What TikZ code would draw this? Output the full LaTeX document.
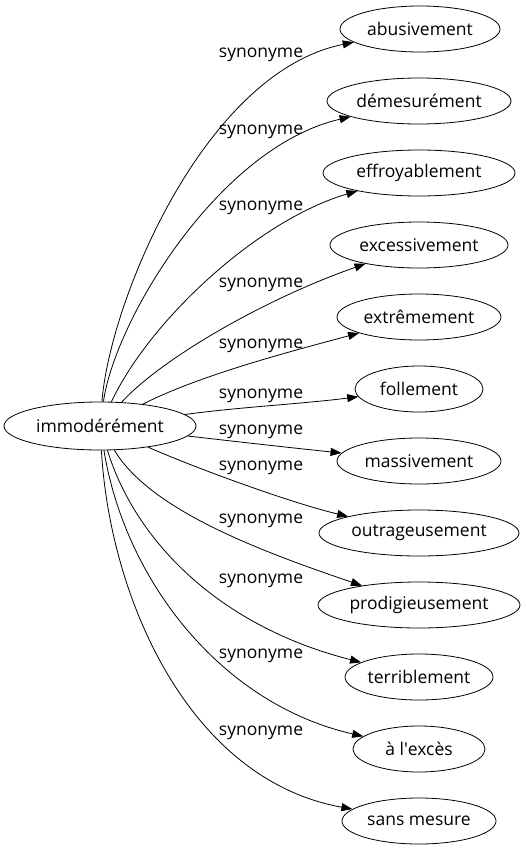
\documentclass[tikz,border=0pt]{standalone}
\usepackage{fontspec}
\setmainfont{Open Sans}
\usetikzlibrary{arrows.meta,shapes.geometric}
\begin{document}
\begin{tikzpicture}[x=1pt,y=-1pt,
  every node/.style={font=\fontsize{17.5}{20}\selectfont},
  ell/.style={draw, ellipse, line width=0.8pt, inner sep=0pt, minimum height=46pt},
  lab/.style={anchor=base, inner sep=0pt},
  edge/.style={draw, line width=0.8pt, -{Triangle[length=11pt,width=8pt]}}]
\fill[white] (0,0) rectangle (525,851);
\useasboundingbox (0,0) rectangle (525,851);
\node[ell, minimum width=192pt, minimum height=48pt] (immo) at (100,426) {immodérément};
\node[ell, minimum width=160pt] (abus) at (420,29) {abusivement};
\node[ell, minimum width=184pt] (deme) at (419,101) {démesurément};
\node[ell, minimum width=192pt] (effr) at (419,173) {effroyablement};
\node[ell, minimum width=178pt] (exce) at (419,245) {excessivement};
\node[ell, minimum width=164pt] (extr) at (419,317) {extrêmement};
\node[ell, minimum width=128pt] (foll) at (419,389) {follement};
\node[ell, minimum width=164pt] (mass) at (419,461) {massivement};
\node[ell, minimum width=200pt] (outr) at (419,533) {outrageusement};
\node[ell, minimum width=202pt] (prod) at (419,605) {prodigieusement};
\node[ell, minimum width=148pt] (terr) at (419,677) {terriblement};
\node[ell, minimum width=132pt] (alex) at (419,749) {à l\textquotesingle excès};
\node[ell, minimum width=154pt] (sans) at (419,821) {sans mesure};
\draw[edge] (immo) .. controls (110,300) and (205,72) .. (abus);
\draw[edge] (immo) .. controls (115,320) and (219,147) .. (deme);
\draw[edge] (immo) .. controls (150,320) and (258,220) .. (effr);
\draw[edge] (immo) .. controls (160,360) and (262,300) .. (exce);
\draw[edge] (immo) .. controls (200,375) and (292,351) .. (extr);
\draw[edge] (immo) .. controls (240,407) and (301,404) .. (foll);
\draw[edge] (immo) .. controls (240,442) and (293,448) .. (mass);
\draw[edge] (immo) .. controls (200,470) and (295,504) .. (outr);
\draw[edge] (immo) .. controls (150,510) and (260,551) .. (prod);
\draw[edge] (immo) .. controls (135,540) and (218,626) .. (terr);
\draw[edge] (immo) .. controls (125,580) and (221,704) .. (alex);
\draw[edge] (immo) .. controls (110,600) and (190,780) .. (sans);
\node[lab] (l1) at (261,58) {synonyme};
\node[lab] (l2) at (261,134) {synonyme};
\node[lab] (l3) at (261,210) {synonyme};
\node[lab] (l4) at (261,287) {synonyme};
\node[lab] (l5) at (261,348) {synonyme};
\node[lab] (l6) at (261,398) {synonyme};
\node[lab] (l7) at (261,434) {synonyme};
\node[lab] (l8) at (261,470) {synonyme};
\node[lab] (l9) at (261,523) {synonyme};
\node[lab] (l10) at (261,583) {synonyme};
\node[lab] (l11) at (261,658) {synonyme};
\node[lab] (l12) at (261,735) {synonyme};
\end{tikzpicture}
\end{document}
